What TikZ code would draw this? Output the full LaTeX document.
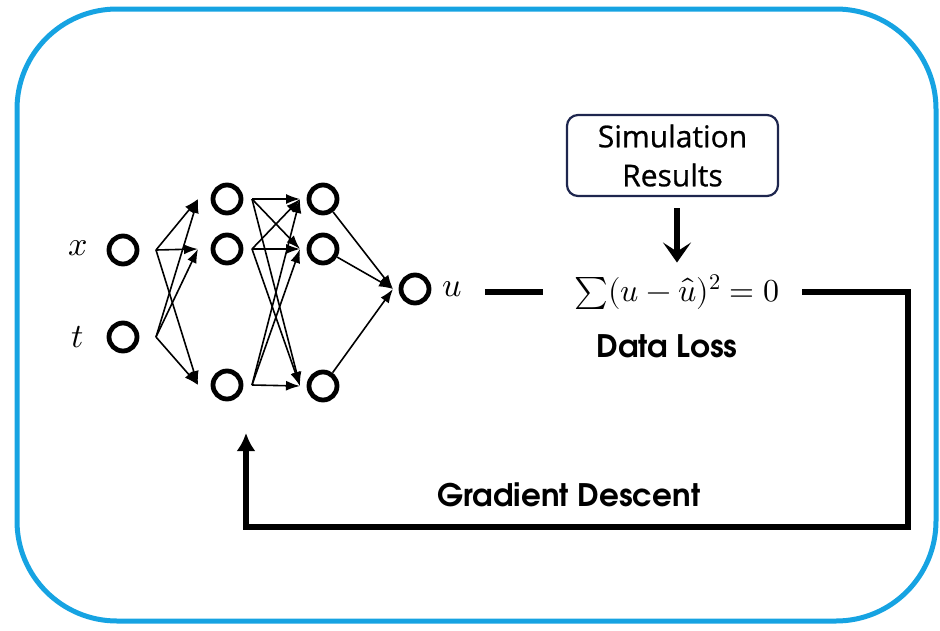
\documentclass[tikz,border=0pt]{standalone}
\usepackage{fontspec}
\usepackage{unicode-math}
\setmathfont{Latin Modern Math}
\usetikzlibrary{arrows.meta,calc}
\newfontfamily\capfont{texgyreadventor}[Extension=.otf, UprightFont=*-regular, BoldFont=*-bold]
\newfontfamily\boxfont{Open Sans}[FakeBold=0.8]
\definecolor{framecyan}{RGB}{22,163,226}
\definecolor{boxnavy}{RGB}{30,38,78}
\begin{document}
\begin{tikzpicture}[x=1pt,y=-1pt,
  neuron/.style={circle,draw,line width=4.8pt,minimum size=28pt,inner sep=0pt},
  varlabel/.style={inner sep=0pt,font=\fontsize{34}{40}\selectfont},
  wire/.style={line width=1.6pt,-{Latex[length=14pt,width=10pt]}},
  flow/.style={line width=6pt},
  flowarrow/.style={line width=6pt,-{Latex[length=18pt,width=19pt]}},
  caption/.style={inner sep=0pt,font=\capfont\bfseries\fontsize{31}{36}\selectfont},
  simbox/.style={draw=boxnavy,line width=2.2pt,rounded corners=11pt,minimum width=211pt,
    minimum height=81pt,align=center,inner sep=0pt,font=\boxfont\fontsize{30}{39}\selectfont},
  frame/.style={draw=framecyan,line width=5pt,rounded corners=100pt}
]
\useasboundingbox (0,0) rectangle (940,630);

% outer frame
\draw[frame] (17,9) rectangle (936,621);

% input layer
\node[neuron] (x) at (123,250) {};
\node[neuron] (t) at (123,337) {};
\node[varlabel] (xl) at (78,248) {$x$};
\node[varlabel] (tl) at (78,337) {$t$};

% hidden layers
\node[neuron] (h1a) at (227,199) {};
\node[neuron] (h1b) at (227,249) {};
\node[neuron] (h1c) at (227,385) {};
\node[neuron] (h2a) at (323,199) {};
\node[neuron] (h2b) at (323,249) {};
\node[neuron] (h2c) at (323,386) {};

% output
\node[neuron] (o) at (415,289) {};
\node[varlabel] (ul) at (452,289) {$u$};

% connection ports
\coordinate (x-out) at ($(x)+(33,0)$);
\coordinate (t-out) at ($(t)+(33,0)$);
\foreach \n in {h1a,h1b,h1c} {
  \coordinate (\n-in) at ($(\n)+(-29,0)$);
  \coordinate (\n-out) at ($(\n)+(25,0)$);
}
\foreach \n in {h2a,h2b,h2c} {
  \coordinate (\n-in) at ($(\n)+(-23,0)$);
}
\coordinate (o-in) at ($(o)+(-22,0)$);

% input -> hidden 1
\foreach \s in {x,t} \foreach \d in {h1a,h1b,h1c}
  \draw[wire] (\s-out) -- (\d-in);
% hidden 1 -> hidden 2
\foreach \s in {h1a,h1b,h1c} \foreach \d in {h2a,h2b,h2c}
  \draw[wire] (\s-out) -- (\d-in);
% hidden 2 -> output
\foreach \s in {h2a,h2b,h2c}
  \draw[wire] (\s) -- (o-in);

% loss term
\node[inner sep=0pt,font=\fontsize{32}{38}\selectfont] (loss) at (677,292) {$\sum(u-\hat{u})^2=0$};
\node[caption] (dl) at (667,346) {Data Loss};
\node[simbox] (sim) at (672.5,155.5) {Simulation\\Results};
\draw[flowarrow,-{Stealth[length=20pt,width=28pt,inset=9pt]}, shorten <=11pt, shorten >=12pt]
  (sim.south -| loss.north) -- (loss.north);

\draw[flow, shorten <=23pt, shorten >=31pt] (ul.east |- loss.west) -- (loss.west);

% feedback path
\coordinate (fb-corner) at (908,527);
\coordinate (fb-tip) at (246,433);
\draw[flowarrow, line cap=rect] ($(loss.east)+(25,0)$) -| (fb-corner) -| (fb-tip);
\node[caption] (gd) at (569,495) {Gradient Descent};
\end{tikzpicture}
\end{document}
